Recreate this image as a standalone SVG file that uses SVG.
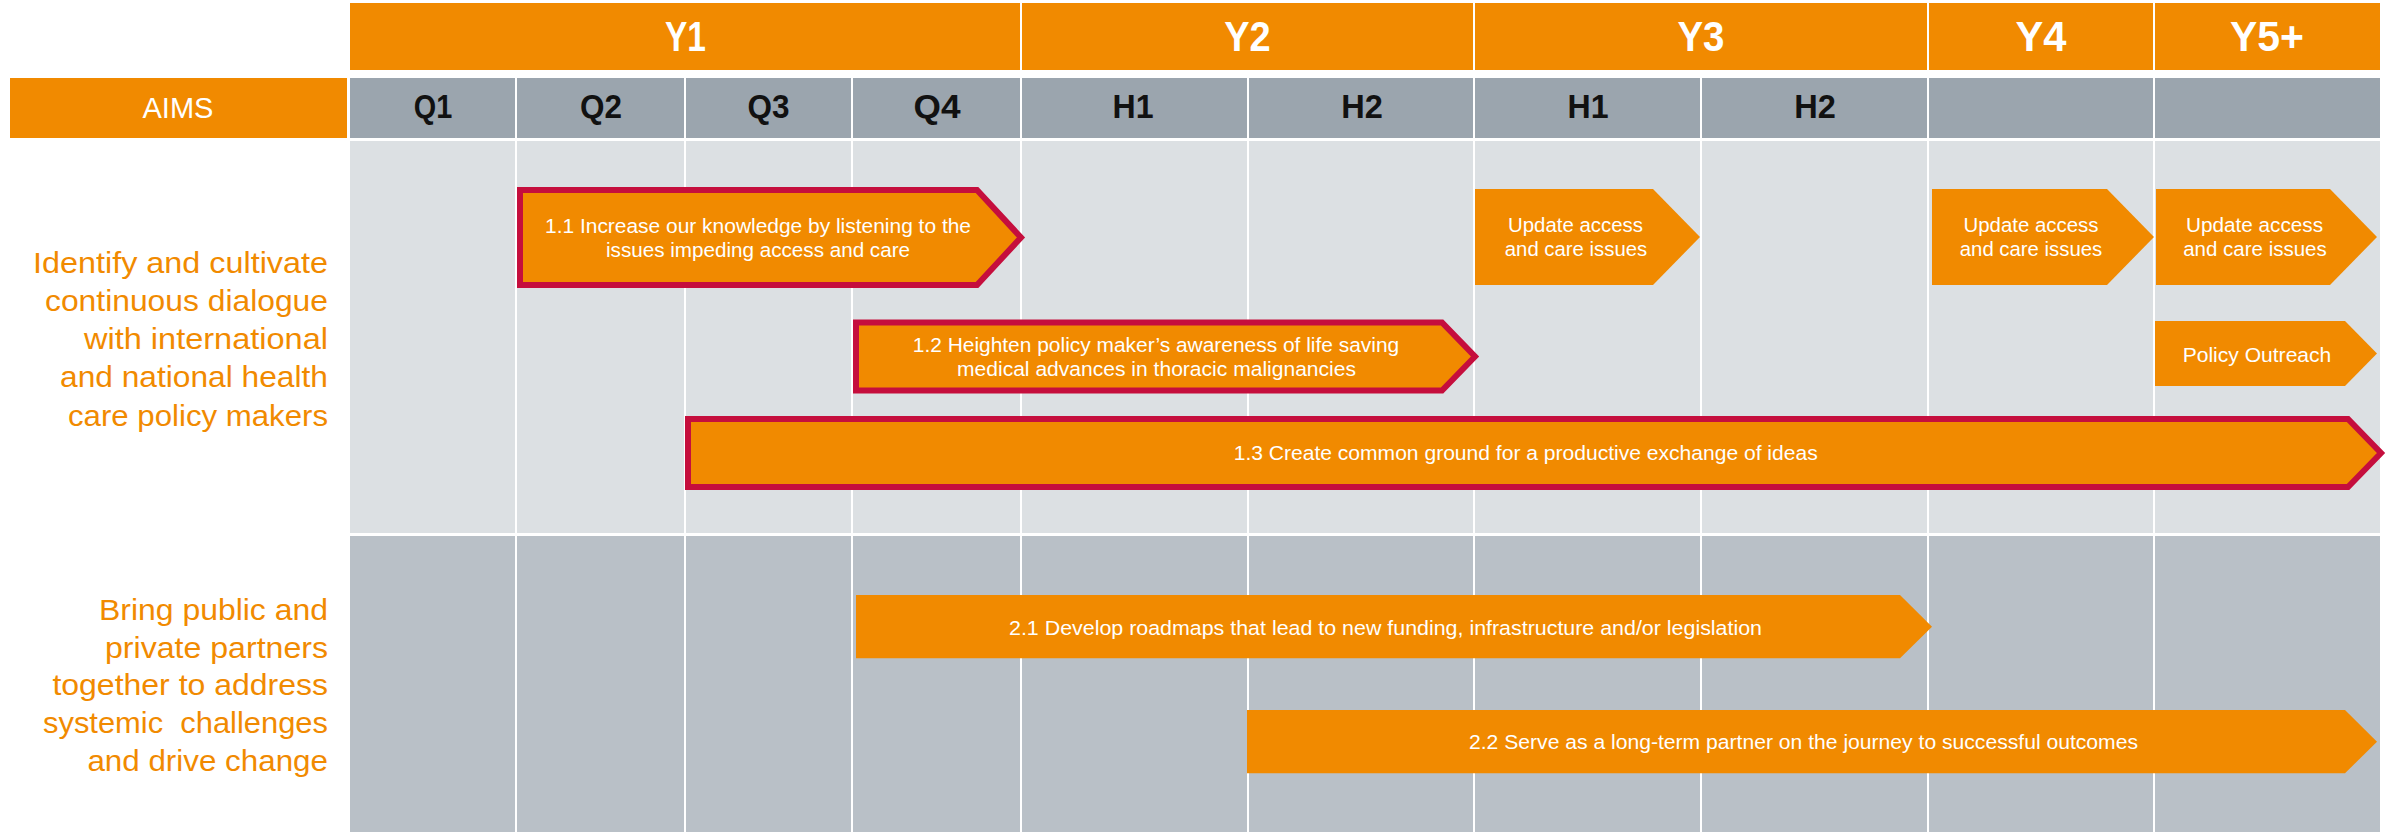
<svg xmlns="http://www.w3.org/2000/svg" width="2394" height="832" viewBox="0 0 2394 832">
<style>
  text { font-family: "Liberation Sans", Arial, sans-serif; }
  .yh { fill: #F18A00; }
  .qh { fill: #9BA5AE; }
  .ytxt { font-size: 43px; font-weight: bold; fill: #FFFFFF; text-anchor: middle; }
  .qtxt { font-size: 33px; font-weight: bold; fill: #111111; text-anchor: middle; }
  .aims { font-size: 30px; fill: #FFFFFF; text-anchor: middle; }
  .aim { font-size: 30px; fill: #F18A00; text-anchor: end; white-space: pre; }
  .vline { stroke: #FFFFFF; stroke-width: 2; }
  .bar { fill: #F18A00; }
  .barb { fill: #F18A00; stroke: #C50E3D; stroke-width: 6; stroke-linejoin: miter; }
  .btxt { font-size: 20.5px; fill: #FFFFFF; text-anchor: middle; }
</style>
<rect x="0" y="0" width="2394" height="832" fill="#FFFFFF"/>

<g id="grid">
  <rect x="350" y="141" width="2030" height="392" fill="#DCE0E3"/>
  <rect x="350" y="536" width="2030" height="296" fill="#B9C0C7"/>
  <line class="vline" x1="516" y1="141" x2="516" y2="832"/>
  <line class="vline" x1="685" y1="141" x2="685" y2="832"/>
  <line class="vline" x1="852" y1="141" x2="852" y2="832"/>
  <line class="vline" x1="1021" y1="141" x2="1021" y2="832"/>
  <line class="vline" x1="1248" y1="141" x2="1248" y2="832"/>
  <line class="vline" x1="1474" y1="141" x2="1474" y2="832"/>
  <line class="vline" x1="1701" y1="141" x2="1701" y2="832"/>
  <line class="vline" x1="1928" y1="141" x2="1928" y2="832"/>
  <line class="vline" x1="2154" y1="141" x2="2154" y2="832"/>
</g>

<g id="year-header">
  <rect class="yh" x="350" y="3" width="670" height="67"/>
  <rect class="yh" x="1022" y="3" width="451" height="67"/>
  <rect class="yh" x="1475" y="3" width="452" height="67"/>
  <rect class="yh" x="1929" y="3" width="224" height="67"/>
  <rect class="yh" x="2155" y="3" width="225" height="67"/>
  <text class="ytxt" x="685.5" y="50.7" textLength="41" lengthAdjust="spacingAndGlyphs">Y1</text>
  <text class="ytxt" x="1247.5" y="50.7" textLength="46.5" lengthAdjust="spacingAndGlyphs">Y2</text>
  <text class="ytxt" x="1701" y="50.7" textLength="47" lengthAdjust="spacingAndGlyphs">Y3</text>
  <text class="ytxt" x="2041" y="50.7" textLength="51" lengthAdjust="spacingAndGlyphs">Y4</text>
  <text class="ytxt" x="2267" y="50.7" textLength="74" lengthAdjust="spacingAndGlyphs">Y5+</text>
</g>

<g id="period-header">
  <rect x="10" y="78" width="337" height="60" fill="#F18A00"/>
  <text class="aims" x="178" y="118.3" textLength="71" lengthAdjust="spacingAndGlyphs">AIMS</text>
  <rect class="qh" x="350" y="78" width="165" height="60"/>
  <rect class="qh" x="517" y="78" width="167" height="60"/>
  <rect class="qh" x="686" y="78" width="165" height="60"/>
  <rect class="qh" x="853" y="78" width="167" height="60"/>
  <rect class="qh" x="1022" y="78" width="225" height="60"/>
  <rect class="qh" x="1249" y="78" width="224" height="60"/>
  <rect class="qh" x="1475" y="78" width="225" height="60"/>
  <rect class="qh" x="1702" y="78" width="225" height="60"/>
  <rect class="qh" x="1929" y="78" width="224" height="60"/>
  <rect class="qh" x="2155" y="78" width="225" height="60"/>
  <text class="qtxt" x="433" y="118.3" textLength="38.5" lengthAdjust="spacingAndGlyphs">Q1</text>
  <text class="qtxt" x="601" y="118.3" textLength="42" lengthAdjust="spacingAndGlyphs">Q2</text>
  <text class="qtxt" x="768.5" y="118.3" textLength="42" lengthAdjust="spacingAndGlyphs">Q3</text>
  <text class="qtxt" x="937" y="118.3" textLength="47" lengthAdjust="spacingAndGlyphs">Q4</text>
  <text class="qtxt" x="1133" y="118.3" textLength="41" lengthAdjust="spacingAndGlyphs">H1</text>
  <text class="qtxt" x="1362" y="118.3" textLength="41.6" lengthAdjust="spacingAndGlyphs">H2</text>
  <text class="qtxt" x="1588" y="118.3" textLength="41" lengthAdjust="spacingAndGlyphs">H1</text>
  <text class="qtxt" x="1815" y="118.3" textLength="41.6" lengthAdjust="spacingAndGlyphs">H2</text>
</g>

<g id="aim1">
  <text class="aim" x="328" y="272.7" textLength="295" lengthAdjust="spacingAndGlyphs">Identify and cultivate</text>
  <text class="aim" x="328" y="310.9" textLength="283" lengthAdjust="spacingAndGlyphs">continuous dialogue</text>
  <text class="aim" x="328" y="349.1" textLength="244" lengthAdjust="spacingAndGlyphs">with international</text>
  <text class="aim" x="328" y="387.3" textLength="268" lengthAdjust="spacingAndGlyphs">and national health</text>
  <text class="aim" x="328" y="425.5" textLength="260" lengthAdjust="spacingAndGlyphs">care policy makers</text>
</g>

<g id="aim2">
  <text class="aim" x="328" y="620" textLength="229" lengthAdjust="spacingAndGlyphs">Bring public and</text>
  <text class="aim" x="328" y="657.5" textLength="223" lengthAdjust="spacingAndGlyphs">private partners</text>
  <text class="aim" x="328" y="695" textLength="275.6" lengthAdjust="spacingAndGlyphs">together to address</text>
  <text class="aim" x="328" y="733" textLength="285" lengthAdjust="spacingAndGlyphs">systemic  challenges</text>
  <text class="aim" x="328" y="770.7" textLength="240.6" lengthAdjust="spacingAndGlyphs">and drive change</text>
</g>

<g id="task-1-1">
  <path class="barb" d="M520,190 H977 L1021,237.5 L977,285 H520 Z"/>
  <text class="btxt" x="758" y="233" textLength="426" lengthAdjust="spacingAndGlyphs">1.1 Increase our knowledge by listening to the</text>
  <text class="btxt" x="758" y="257" textLength="304" lengthAdjust="spacingAndGlyphs">issues impeding access and care</text>
</g>

<g id="task-1-2">
  <path class="barb" d="M856,322.5 H1442 L1475,356.5 L1442,390.5 H856 Z"/>
  <text class="btxt" x="1156" y="351.7" textLength="486.5" lengthAdjust="spacingAndGlyphs">1.2 Heighten policy maker’s awareness of life saving</text>
  <text class="btxt" x="1156.5" y="376" textLength="399" lengthAdjust="spacingAndGlyphs">medical advances in thoracic malignancies</text>
</g>

<g id="task-1-3">
  <path class="barb" d="M688,419 H2348 L2381,453 L2348,487 H688 Z"/>
  <text class="btxt" x="1525.7" y="460" textLength="584" lengthAdjust="spacingAndGlyphs">1.3 Create common ground for a productive exchange of ideas</text>
</g>

<g id="update-y3">
  <path class="bar" d="M1475,189 H1653 L1700,237 L1653,285 H1475 Z"/>
  <text class="btxt" x="1575.5" y="231.7" textLength="135" lengthAdjust="spacingAndGlyphs">Update access</text>
  <text class="btxt" x="1576" y="256" textLength="142.4" lengthAdjust="spacingAndGlyphs">and care issues</text>
</g>

<g id="update-y4">
  <path class="bar" d="M1932,189 H2107 L2154,237 L2107,285 H1932 Z"/>
  <text class="btxt" x="2031" y="231.7" textLength="135" lengthAdjust="spacingAndGlyphs">Update access</text>
  <text class="btxt" x="2031" y="256" textLength="142.5" lengthAdjust="spacingAndGlyphs">and care issues</text>
</g>

<g id="update-y5">
  <path class="bar" d="M2156,189 H2330 L2377,237 L2330,285 H2156 Z"/>
  <text class="btxt" x="2254.5" y="231.7" textLength="137" lengthAdjust="spacingAndGlyphs">Update access</text>
  <text class="btxt" x="2255" y="256" textLength="143.6" lengthAdjust="spacingAndGlyphs">and care issues</text>
</g>

<g id="policy-outreach">
  <path class="bar" d="M2155,321 H2345 L2377,353.5 L2345,386 H2155 Z"/>
  <text class="btxt" x="2257" y="361.7" textLength="148.6" lengthAdjust="spacingAndGlyphs">Policy Outreach</text>
</g>

<g id="task-2-1">
  <path class="bar" d="M856,595 H1900 L1932,626.7 L1900,658.3 H856 Z"/>
  <text class="btxt" x="1385.5" y="635" textLength="753" lengthAdjust="spacingAndGlyphs">2.1 Develop roadmaps that lead to new funding, infrastructure and/or legislation</text>
</g>

<g id="task-2-2">
  <path class="bar" d="M1247,710 H2345 L2377,741.7 L2345,773.3 H1247 Z"/>
  <text class="btxt" x="1803.5" y="749.3" textLength="669" lengthAdjust="spacingAndGlyphs">2.2 Serve as a long-term partner on the journey to successful outcomes</text>
</g>

<g id="connectors"></g>
</svg>
